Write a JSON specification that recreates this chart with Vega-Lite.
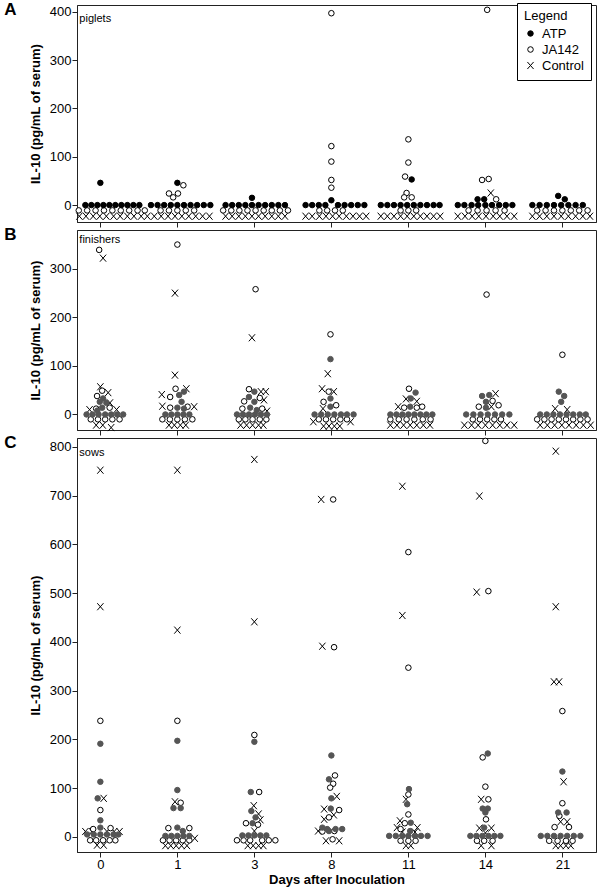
{
"$schema":"https://vega.github.io/schema/vega-lite/v6.json",
"padding":{"left":3,"top":0,"right":0,"bottom":0},
"spacing":-3,
"config":{
 "font":"Liberation Sans",
 "view":{"stroke":"#222"},
 "axis":{"grid":false,"domainColor":"#222","tickColor":"#222","labelColor":"#000","titleColor":"#000","labelFontSize":13,"titleFontSize":13,"titleFontWeight":"bold","tickSize":5,"labelPadding":1,"titlePadding":7,"labelFont":"Liberation Sans","titleFont":"Liberation Sans"},
 "legend":{"strokeColor":"#000","fillColor":"#fff","padding":7,"titleFontSize":13,"titleFontWeight":"normal","labelFontSize":13,"titleColor":"#000","labelColor":"#000","rowPadding":2,"titlePadding":4,"symbolStrokeWidth":1,"labelOffset":5,"cornerRadius":0,"labelFont":"Liberation Sans","titleFont":"Liberation Sans"}
},
"datasets":{"pts":[
{"p":"A","d":"0","g":"Control","v":-23,"j":-3.5},{"p":"A","d":"0","g":"Control","v":-23,"j":-2.4},{"p":"A","d":"0","g":"Control","v":-23,"j":-1.2},{"p":"A","d":"0","g":"Control","v":-23,"j":-0.1},{"p":"A","d":"0","g":"Control","v":-23,"j":1.0},{"p":"A","d":"0","g":"Control","v":-23,"j":2.2},{"p":"A","d":"0","g":"Control","v":-23,"j":3.3},{"p":"A","d":"0","g":"Control","v":-23,"j":4.5},{"p":"A","d":"0","g":"Control","v":-23,"j":5.6},{"p":"A","d":"0","g":"Control","v":-23,"j":6.8},
{"p":"A","d":"0","g":"JA142","v":-11,"j":-3.6},{"p":"A","d":"0","g":"JA142","v":-11,"j":-2.2},{"p":"A","d":"0","g":"JA142","v":-11,"j":-0.8},{"p":"A","d":"0","g":"JA142","v":-11,"j":0.6},{"p":"A","d":"0","g":"JA142","v":-11,"j":2.0},{"p":"A","d":"0","g":"JA142","v":-11,"j":3.4},{"p":"A","d":"0","g":"JA142","v":-11,"j":4.8},{"p":"A","d":"0","g":"JA142","v":-11,"j":6.2},{"p":"A","d":"0","g":"JA142","v":-11,"j":7.4},
{"p":"A","d":"0","g":"ATP","v":46,"j":0},{"p":"A","d":"0","g":"ATP","v":0,"j":-2.5},{"p":"A","d":"0","g":"ATP","v":0,"j":-1.5},{"p":"A","d":"0","g":"ATP","v":0,"j":-0.5},{"p":"A","d":"0","g":"ATP","v":0,"j":0.5},{"p":"A","d":"0","g":"ATP","v":0,"j":1.5},{"p":"A","d":"0","g":"ATP","v":0,"j":2.5},{"p":"A","d":"0","g":"ATP","v":0,"j":3.5},{"p":"A","d":"0","g":"ATP","v":0,"j":4.5},{"p":"A","d":"0","g":"ATP","v":0,"j":5.5},{"p":"A","d":"0","g":"ATP","v":0,"j":6.5},
{"p":"A","d":"1","g":"Control","v":-23,"j":-5},{"p":"A","d":"1","g":"Control","v":-23,"j":-3.85},{"p":"A","d":"1","g":"Control","v":-23,"j":-2.7},{"p":"A","d":"1","g":"Control","v":-23,"j":-1.55},{"p":"A","d":"1","g":"Control","v":-23,"j":-0.4},{"p":"A","d":"1","g":"Control","v":-23,"j":0.75},{"p":"A","d":"1","g":"Control","v":-23,"j":1.9},{"p":"A","d":"1","g":"Control","v":-23,"j":3.05},{"p":"A","d":"1","g":"Control","v":-23,"j":4.2},{"p":"A","d":"1","g":"Control","v":-23,"j":5.35},
{"p":"A","d":"1","g":"JA142","v":41,"j":1},{"p":"A","d":"1","g":"JA142","v":24,"j":-1.4},{"p":"A","d":"1","g":"JA142","v":24,"j":0.1},{"p":"A","d":"1","g":"JA142","v":16,"j":-0.7},{"p":"A","d":"1","g":"JA142","v":-11,"j":-2.8},{"p":"A","d":"1","g":"JA142","v":-11,"j":-1.4},{"p":"A","d":"1","g":"JA142","v":-11,"j":0},{"p":"A","d":"1","g":"JA142","v":-11,"j":1.4},{"p":"A","d":"1","g":"JA142","v":-11,"j":2.8},
{"p":"A","d":"1","g":"ATP","v":46,"j":0},{"p":"A","d":"1","g":"ATP","v":0,"j":-4.4},{"p":"A","d":"1","g":"ATP","v":0,"j":-3.3},{"p":"A","d":"1","g":"ATP","v":0,"j":-2.2},{"p":"A","d":"1","g":"ATP","v":0,"j":-1.1},{"p":"A","d":"1","g":"ATP","v":0,"j":0},{"p":"A","d":"1","g":"ATP","v":0,"j":1.1},{"p":"A","d":"1","g":"ATP","v":0,"j":2.2},{"p":"A","d":"1","g":"ATP","v":0,"j":3.3},{"p":"A","d":"1","g":"ATP","v":0,"j":4.4},{"p":"A","d":"1","g":"ATP","v":0,"j":5.5},
{"p":"A","d":"3","g":"Control","v":-23,"j":-4.8},{"p":"A","d":"3","g":"Control","v":-23,"j":-3.7},{"p":"A","d":"3","g":"Control","v":-23,"j":-2.6},{"p":"A","d":"3","g":"Control","v":-23,"j":-1.5},{"p":"A","d":"3","g":"Control","v":-23,"j":-0.4},{"p":"A","d":"3","g":"Control","v":-23,"j":0.7},{"p":"A","d":"3","g":"Control","v":-23,"j":1.8},{"p":"A","d":"3","g":"Control","v":-23,"j":2.9},{"p":"A","d":"3","g":"Control","v":-23,"j":4.0},{"p":"A","d":"3","g":"Control","v":-23,"j":5.1},
{"p":"A","d":"3","g":"JA142","v":-11,"j":-5.2},{"p":"A","d":"3","g":"JA142","v":-11,"j":-3.85},{"p":"A","d":"3","g":"JA142","v":-11,"j":-2.5},{"p":"A","d":"3","g":"JA142","v":-11,"j":-1.15},{"p":"A","d":"3","g":"JA142","v":-11,"j":0.2},{"p":"A","d":"3","g":"JA142","v":-11,"j":1.55},{"p":"A","d":"3","g":"JA142","v":-11,"j":2.9},{"p":"A","d":"3","g":"JA142","v":-11,"j":4.25},{"p":"A","d":"3","g":"JA142","v":-11,"j":5.6},
{"p":"A","d":"3","g":"ATP","v":15,"j":-0.4},{"p":"A","d":"3","g":"ATP","v":0,"j":-4.8},{"p":"A","d":"3","g":"ATP","v":0,"j":-3.7},{"p":"A","d":"3","g":"ATP","v":0,"j":-2.6},{"p":"A","d":"3","g":"ATP","v":0,"j":-1.5},{"p":"A","d":"3","g":"ATP","v":0,"j":-0.4},{"p":"A","d":"3","g":"ATP","v":0,"j":0.7},{"p":"A","d":"3","g":"ATP","v":0,"j":1.8},{"p":"A","d":"3","g":"ATP","v":0,"j":2.9},{"p":"A","d":"3","g":"ATP","v":0,"j":4.0},{"p":"A","d":"3","g":"ATP","v":0,"j":5.1},
{"p":"A","d":"8","g":"Control","v":-23,"j":-4.3},{"p":"A","d":"8","g":"Control","v":-23,"j":-3.2},{"p":"A","d":"8","g":"Control","v":-23,"j":-2.0},{"p":"A","d":"8","g":"Control","v":-23,"j":-0.9},{"p":"A","d":"8","g":"Control","v":-23,"j":0.2},{"p":"A","d":"8","g":"Control","v":-23,"j":1.3},{"p":"A","d":"8","g":"Control","v":-23,"j":2.5},{"p":"A","d":"8","g":"Control","v":-23,"j":3.6},{"p":"A","d":"8","g":"Control","v":-23,"j":4.7},{"p":"A","d":"8","g":"Control","v":-23,"j":5.8},
{"p":"A","d":"8","g":"JA142","v":397,"j":0},{"p":"A","d":"8","g":"JA142","v":122,"j":0},{"p":"A","d":"8","g":"JA142","v":90,"j":0},{"p":"A","d":"8","g":"JA142","v":52,"j":0},{"p":"A","d":"8","g":"JA142","v":36,"j":0},{"p":"A","d":"8","g":"JA142","v":-11,"j":-2},{"p":"A","d":"8","g":"JA142","v":-11,"j":-0.7},{"p":"A","d":"8","g":"JA142","v":-11,"j":0.6},{"p":"A","d":"8","g":"JA142","v":-11,"j":1.9},
{"p":"A","d":"8","g":"ATP","v":10,"j":0},{"p":"A","d":"8","g":"ATP","v":0,"j":-4.3},{"p":"A","d":"8","g":"ATP","v":0,"j":-3.2},{"p":"A","d":"8","g":"ATP","v":0,"j":-2.1},{"p":"A","d":"8","g":"ATP","v":0,"j":-1.0},{"p":"A","d":"8","g":"ATP","v":0,"j":1.1},{"p":"A","d":"8","g":"ATP","v":0,"j":2.2},{"p":"A","d":"8","g":"ATP","v":0,"j":3.3},{"p":"A","d":"8","g":"ATP","v":0,"j":4.4},{"p":"A","d":"8","g":"ATP","v":0,"j":5.5},
{"p":"A","d":"11","g":"Control","v":-23,"j":-4.6},{"p":"A","d":"11","g":"Control","v":-23,"j":-3.5},{"p":"A","d":"11","g":"Control","v":-23,"j":-2.4},{"p":"A","d":"11","g":"Control","v":-23,"j":-1.3},{"p":"A","d":"11","g":"Control","v":-23,"j":-0.2},{"p":"A","d":"11","g":"Control","v":-23,"j":0.9},{"p":"A","d":"11","g":"Control","v":-23,"j":2.0},{"p":"A","d":"11","g":"Control","v":-23,"j":3.1},{"p":"A","d":"11","g":"Control","v":-23,"j":4.2},{"p":"A","d":"11","g":"Control","v":-23,"j":5.3},
{"p":"A","d":"11","g":"JA142","v":136,"j":0},{"p":"A","d":"11","g":"JA142","v":88,"j":0},{"p":"A","d":"11","g":"JA142","v":59,"j":-0.55},{"p":"A","d":"11","g":"JA142","v":25,"j":-0.3},{"p":"A","d":"11","g":"JA142","v":16,"j":-0.7},{"p":"A","d":"11","g":"JA142","v":16,"j":0.55},{"p":"A","d":"11","g":"JA142","v":-11,"j":-1.3},{"p":"A","d":"11","g":"JA142","v":-11,"j":0},{"p":"A","d":"11","g":"JA142","v":-11,"j":1.3},
{"p":"A","d":"11","g":"ATP","v":53,"j":0.55},{"p":"A","d":"11","g":"ATP","v":0,"j":-4.6},{"p":"A","d":"11","g":"ATP","v":0,"j":-3.5},{"p":"A","d":"11","g":"ATP","v":0,"j":-2.4},{"p":"A","d":"11","g":"ATP","v":0,"j":-1.3},{"p":"A","d":"11","g":"ATP","v":0,"j":-0.2},{"p":"A","d":"11","g":"ATP","v":0,"j":0.9},{"p":"A","d":"11","g":"ATP","v":0,"j":2.0},{"p":"A","d":"11","g":"ATP","v":0,"j":3.1},{"p":"A","d":"11","g":"ATP","v":0,"j":4.2},{"p":"A","d":"11","g":"ATP","v":0,"j":5.2},
{"p":"A","d":"14","g":"Control","v":25,"j":0.9},{"p":"A","d":"14","g":"Control","v":-23,"j":-4.6},{"p":"A","d":"14","g":"Control","v":-23,"j":-3.4},{"p":"A","d":"14","g":"Control","v":-23,"j":-2.2},{"p":"A","d":"14","g":"Control","v":-23,"j":-1.1},{"p":"A","d":"14","g":"Control","v":-23,"j":0.1},{"p":"A","d":"14","g":"Control","v":-23,"j":1.3},{"p":"A","d":"14","g":"Control","v":-23,"j":2.4},{"p":"A","d":"14","g":"Control","v":-23,"j":3.6},{"p":"A","d":"14","g":"Control","v":-23,"j":4.8},
{"p":"A","d":"14","g":"JA142","v":404,"j":0.3},{"p":"A","d":"14","g":"JA142","v":54,"j":0.55},{"p":"A","d":"14","g":"JA142","v":52,"j":-0.55},{"p":"A","d":"14","g":"JA142","v":12,"j":1.8},{"p":"A","d":"14","g":"JA142","v":-11,"j":-2.8},{"p":"A","d":"14","g":"JA142","v":-11,"j":-1.3},{"p":"A","d":"14","g":"JA142","v":-11,"j":0.2},{"p":"A","d":"14","g":"JA142","v":-11,"j":1.7},{"p":"A","d":"14","g":"JA142","v":-11,"j":3.2},
{"p":"A","d":"14","g":"ATP","v":12,"j":-1.3},{"p":"A","d":"14","g":"ATP","v":12,"j":-0.2},{"p":"A","d":"14","g":"ATP","v":0,"j":-4.6},{"p":"A","d":"14","g":"ATP","v":0,"j":-3.5},{"p":"A","d":"14","g":"ATP","v":0,"j":-2.3},{"p":"A","d":"14","g":"ATP","v":0,"j":-1.2},{"p":"A","d":"14","g":"ATP","v":0,"j":0},{"p":"A","d":"14","g":"ATP","v":0,"j":1.1},{"p":"A","d":"14","g":"ATP","v":0,"j":2.3},{"p":"A","d":"14","g":"ATP","v":0,"j":3.4},{"p":"A","d":"14","g":"ATP","v":0,"j":4.5},
{"p":"A","d":"21","g":"Control","v":-23,"j":-5},{"p":"A","d":"21","g":"Control","v":-23,"j":-3.8},{"p":"A","d":"21","g":"Control","v":-23,"j":-2.6},{"p":"A","d":"21","g":"Control","v":-23,"j":-1.4},{"p":"A","d":"21","g":"Control","v":-23,"j":-0.2},{"p":"A","d":"21","g":"Control","v":-23,"j":1.0},{"p":"A","d":"21","g":"Control","v":-23,"j":2.2},{"p":"A","d":"21","g":"Control","v":-23,"j":3.4},{"p":"A","d":"21","g":"Control","v":-23,"j":4.6},
{"p":"A","d":"21","g":"JA142","v":-11,"j":-4.2},{"p":"A","d":"21","g":"JA142","v":-11,"j":-2.8},{"p":"A","d":"21","g":"JA142","v":-11,"j":-1.4},{"p":"A","d":"21","g":"JA142","v":-11,"j":0},{"p":"A","d":"21","g":"JA142","v":-11,"j":1.4},{"p":"A","d":"21","g":"JA142","v":-11,"j":2.8},{"p":"A","d":"21","g":"JA142","v":-11,"j":4.2},
{"p":"A","d":"21","g":"ATP","v":19,"j":-0.7},{"p":"A","d":"21","g":"ATP","v":12,"j":0.4},{"p":"A","d":"21","g":"ATP","v":0,"j":-5},{"p":"A","d":"21","g":"ATP","v":0,"j":-3.8},{"p":"A","d":"21","g":"ATP","v":0,"j":-2.6},{"p":"A","d":"21","g":"ATP","v":0,"j":-1.4},{"p":"A","d":"21","g":"ATP","v":0,"j":-0.2},{"p":"A","d":"21","g":"ATP","v":0,"j":1.0},{"p":"A","d":"21","g":"ATP","v":0,"j":2.2},{"p":"A","d":"21","g":"ATP","v":0,"j":3.4},

{"p":"B","d":"0","g":"Control","v":322,"j":0.45},{"p":"B","d":"0","g":"Control","v":57,"j":0},{"p":"B","d":"0","g":"Control","v":45,"j":1.3},{"p":"B","d":"0","g":"Control","v":24,"j":1.6},{"p":"B","d":"0","g":"Control","v":10,"j":-1.8},{"p":"B","d":"0","g":"Control","v":10,"j":2.7},{"p":"B","d":"0","g":"Control","v":-22,"j":-0.7},{"p":"B","d":"0","g":"Control","v":-22,"j":0.4},{"p":"B","d":"0","g":"Control","v":-27,"j":1.8},
{"p":"B","d":"0","g":"JA142","v":339,"j":-0.2},{"p":"B","d":"0","g":"JA142","v":49,"j":0.3},{"p":"B","d":"0","g":"JA142","v":38,"j":-0.55},{"p":"B","d":"0","g":"JA142","v":14,"j":1.55},{"p":"B","d":"0","g":"JA142","v":12,"j":-0.7},{"p":"B","d":"0","g":"JA142","v":-10,"j":-1.6},{"p":"B","d":"0","g":"JA142","v":-10,"j":-0.4},{"p":"B","d":"0","g":"JA142","v":-10,"j":0.8},{"p":"B","d":"0","g":"JA142","v":-10,"j":2.0},{"p":"B","d":"0","g":"JA142","v":-10,"j":3.2},
{"p":"B","d":"0","g":"ATP","v":33,"j":0.45},{"p":"B","d":"0","g":"ATP","v":26,"j":-0.1},{"p":"B","d":"0","g":"ATP","v":24,"j":1.0},{"p":"B","d":"0","g":"ATP","v":14,"j":0.3},{"p":"B","d":"0","g":"ATP","v":8,"j":-0.5},{"p":"B","d":"0","g":"ATP","v":0,"j":-2.3},{"p":"B","d":"0","g":"ATP","v":0,"j":-1.3},{"p":"B","d":"0","g":"ATP","v":0,"j":-0.3},{"p":"B","d":"0","g":"ATP","v":0,"j":0.8},{"p":"B","d":"0","g":"ATP","v":0,"j":1.8},{"p":"B","d":"0","g":"ATP","v":0,"j":2.8},{"p":"B","d":"0","g":"ATP","v":0,"j":3.8},
{"p":"B","d":"1","g":"Control","v":250,"j":-0.4},{"p":"B","d":"1","g":"Control","v":81,"j":-0.4},{"p":"B","d":"1","g":"Control","v":53,"j":1.5},{"p":"B","d":"1","g":"Control","v":41,"j":-2.6},{"p":"B","d":"1","g":"Control","v":17,"j":-2.5},{"p":"B","d":"1","g":"Control","v":16,"j":2.8},{"p":"B","d":"1","g":"Control","v":-22,"j":-1.4},{"p":"B","d":"1","g":"Control","v":-22,"j":-0.5},{"p":"B","d":"1","g":"Control","v":-22,"j":0.5},{"p":"B","d":"1","g":"Control","v":-22,"j":1.4},
{"p":"B","d":"1","g":"JA142","v":350,"j":0},{"p":"B","d":"1","g":"JA142","v":53,"j":-0.3},{"p":"B","d":"1","g":"JA142","v":36,"j":-1.2},{"p":"B","d":"1","g":"JA142","v":14,"j":-1.2},{"p":"B","d":"1","g":"JA142","v":16,"j":1.7},{"p":"B","d":"1","g":"JA142","v":-10,"j":-2.5},{"p":"B","d":"1","g":"JA142","v":-10,"j":-1.25},{"p":"B","d":"1","g":"JA142","v":-10,"j":0},{"p":"B","d":"1","g":"JA142","v":-10,"j":1.25},{"p":"B","d":"1","g":"JA142","v":-10,"j":2.5},
{"p":"B","d":"1","g":"ATP","v":47,"j":1.1},{"p":"B","d":"1","g":"ATP","v":40,"j":0.3},{"p":"B","d":"1","g":"ATP","v":26,"j":0.7},{"p":"B","d":"1","g":"ATP","v":14,"j":0},{"p":"B","d":"1","g":"ATP","v":12,"j":1.1},{"p":"B","d":"1","g":"ATP","v":0,"j":-2},{"p":"B","d":"1","g":"ATP","v":0,"j":-1},{"p":"B","d":"1","g":"ATP","v":0,"j":0},{"p":"B","d":"1","g":"ATP","v":0,"j":1},{"p":"B","d":"1","g":"ATP","v":0,"j":2},
{"p":"B","d":"3","g":"Control","v":158,"j":-0.4},{"p":"B","d":"3","g":"Control","v":47,"j":1.1},{"p":"B","d":"3","g":"Control","v":47,"j":1.9},{"p":"B","d":"3","g":"Control","v":30,"j":1.6},{"p":"B","d":"3","g":"Control","v":7,"j":2.1},{"p":"B","d":"3","g":"Control","v":-22,"j":-2.3},{"p":"B","d":"3","g":"Control","v":-22,"j":-1.3},{"p":"B","d":"3","g":"Control","v":-22,"j":-0.3},{"p":"B","d":"3","g":"Control","v":-22,"j":0.7},{"p":"B","d":"3","g":"Control","v":-22,"j":1.5},
{"p":"B","d":"3","g":"JA142","v":258,"j":0.2},{"p":"B","d":"3","g":"JA142","v":52,"j":-0.9},{"p":"B","d":"3","g":"JA142","v":34,"j":0.9},{"p":"B","d":"3","g":"JA142","v":27,"j":-1.7},{"p":"B","d":"3","g":"JA142","v":12,"j":-2},{"p":"B","d":"3","g":"JA142","v":12,"j":1.3},{"p":"B","d":"3","g":"JA142","v":-10,"j":-2.6},{"p":"B","d":"3","g":"JA142","v":-10,"j":-1.5},{"p":"B","d":"3","g":"JA142","v":-10,"j":-0.3},{"p":"B","d":"3","g":"JA142","v":-10,"j":0.9},{"p":"B","d":"3","g":"JA142","v":-10,"j":2.0},
{"p":"B","d":"3","g":"ATP","v":47,"j":0},{"p":"B","d":"3","g":"ATP","v":36,"j":-0.9},{"p":"B","d":"3","g":"ATP","v":26,"j":0},{"p":"B","d":"3","g":"ATP","v":14,"j":-0.7},{"p":"B","d":"3","g":"ATP","v":9,"j":0.4},{"p":"B","d":"3","g":"ATP","v":0,"j":-2.9},{"p":"B","d":"3","g":"ATP","v":0,"j":-1.9},{"p":"B","d":"3","g":"ATP","v":0,"j":-0.9},{"p":"B","d":"3","g":"ATP","v":0,"j":0.1},{"p":"B","d":"3","g":"ATP","v":0,"j":1.1},{"p":"B","d":"3","g":"ATP","v":0,"j":2.1},
{"p":"B","d":"8","g":"Control","v":84,"j":-0.6},{"p":"B","d":"8","g":"Control","v":53,"j":-1.55},{"p":"B","d":"8","g":"Control","v":47,"j":0.4},{"p":"B","d":"8","g":"Control","v":12,"j":-1.4},{"p":"B","d":"8","g":"Control","v":-15,"j":-3},{"p":"B","d":"8","g":"Control","v":-15,"j":3.2},{"p":"B","d":"8","g":"Control","v":-24,"j":-1.3},{"p":"B","d":"8","g":"Control","v":-24,"j":-0.4},{"p":"B","d":"8","g":"Control","v":-24,"j":0.5},{"p":"B","d":"8","g":"Control","v":-24,"j":1.4},
{"p":"B","d":"8","g":"JA142","v":165,"j":-0.15},{"p":"B","d":"8","g":"JA142","v":47,"j":-0.45},{"p":"B","d":"8","g":"JA142","v":26,"j":-1.3},{"p":"B","d":"8","g":"JA142","v":19,"j":0.8},{"p":"B","d":"8","g":"JA142","v":-10,"j":-2.1},{"p":"B","d":"8","g":"JA142","v":-10,"j":-0.9},{"p":"B","d":"8","g":"JA142","v":-10,"j":0.3},{"p":"B","d":"8","g":"JA142","v":-10,"j":1.5},{"p":"B","d":"8","g":"JA142","v":-10,"j":2.6},
{"p":"B","d":"8","g":"ATP","v":114,"j":-0.15},{"p":"B","d":"8","g":"ATP","v":33,"j":-0.15},{"p":"B","d":"8","g":"ATP","v":16,"j":-0.15},{"p":"B","d":"8","g":"ATP","v":0,"j":-2.8},{"p":"B","d":"8","g":"ATP","v":0,"j":-1.7},{"p":"B","d":"8","g":"ATP","v":0,"j":-0.6},{"p":"B","d":"8","g":"ATP","v":0,"j":0.5},{"p":"B","d":"8","g":"ATP","v":0,"j":1.6},{"p":"B","d":"8","g":"ATP","v":0,"j":2.6},{"p":"B","d":"8","g":"ATP","v":0,"j":3.7},
{"p":"B","d":"11","g":"Control","v":32,"j":-0.4},{"p":"B","d":"11","g":"Control","v":27,"j":1.4},{"p":"B","d":"11","g":"Control","v":16,"j":-1.7},{"p":"B","d":"11","g":"Control","v":-22,"j":-3},{"p":"B","d":"11","g":"Control","v":-22,"j":-1.9},{"p":"B","d":"11","g":"Control","v":-22,"j":-0.8},{"p":"B","d":"11","g":"Control","v":-22,"j":0.3},{"p":"B","d":"11","g":"Control","v":-22,"j":1.4},{"p":"B","d":"11","g":"Control","v":-22,"j":2.5},{"p":"B","d":"11","g":"Control","v":-22,"j":3.6},
{"p":"B","d":"11","g":"JA142","v":53,"j":0.1},{"p":"B","d":"11","g":"JA142","v":14,"j":-0.7},{"p":"B","d":"11","g":"JA142","v":14,"j":1.4},{"p":"B","d":"11","g":"JA142","v":16,"j":2.3},{"p":"B","d":"11","g":"JA142","v":-10,"j":-3},{"p":"B","d":"11","g":"JA142","v":-10,"j":-1.6},{"p":"B","d":"11","g":"JA142","v":-10,"j":-0.3},{"p":"B","d":"11","g":"JA142","v":-10,"j":1.0},{"p":"B","d":"11","g":"JA142","v":-10,"j":2.4},{"p":"B","d":"11","g":"JA142","v":-10,"j":3.7},
{"p":"B","d":"11","g":"ATP","v":45,"j":1.2},{"p":"B","d":"11","g":"ATP","v":33,"j":0.4},{"p":"B","d":"11","g":"ATP","v":16,"j":0.3},{"p":"B","d":"11","g":"ATP","v":0,"j":-3},{"p":"B","d":"11","g":"ATP","v":0,"j":-2},{"p":"B","d":"11","g":"ATP","v":0,"j":-1},{"p":"B","d":"11","g":"ATP","v":0,"j":0},{"p":"B","d":"11","g":"ATP","v":0,"j":1},{"p":"B","d":"11","g":"ATP","v":0,"j":2},{"p":"B","d":"11","g":"ATP","v":0,"j":3},{"p":"B","d":"11","g":"ATP","v":0,"j":4},
{"p":"B","d":"14","g":"Control","v":43,"j":1.7},{"p":"B","d":"14","g":"Control","v":16,"j":1.0},{"p":"B","d":"14","g":"Control","v":-22,"j":-3.5},{"p":"B","d":"14","g":"Control","v":-22,"j":-2.3},{"p":"B","d":"14","g":"Control","v":-22,"j":-1.2},{"p":"B","d":"14","g":"Control","v":-22,"j":0},{"p":"B","d":"14","g":"Control","v":-22,"j":1.2},{"p":"B","d":"14","g":"Control","v":-22,"j":2.4},{"p":"B","d":"14","g":"Control","v":-22,"j":3.6},{"p":"B","d":"14","g":"Control","v":-22,"j":4.8},
{"p":"B","d":"14","g":"JA142","v":247,"j":0.2},{"p":"B","d":"14","g":"JA142","v":28,"j":1.2},{"p":"B","d":"14","g":"JA142","v":16,"j":-1.1},{"p":"B","d":"14","g":"JA142","v":19,"j":2.2},{"p":"B","d":"14","g":"JA142","v":-10,"j":-2.1},{"p":"B","d":"14","g":"JA142","v":-10,"j":-0.9},{"p":"B","d":"14","g":"JA142","v":-10,"j":0.3},{"p":"B","d":"14","g":"JA142","v":-10,"j":1.5},{"p":"B","d":"14","g":"JA142","v":-10,"j":2.6},
{"p":"B","d":"14","g":"ATP","v":38,"j":-0.55},{"p":"B","d":"14","g":"ATP","v":40,"j":0.65},{"p":"B","d":"14","g":"ATP","v":26,"j":0.1},{"p":"B","d":"14","g":"ATP","v":14,"j":0.1},{"p":"B","d":"14","g":"ATP","v":0,"j":-3.2},{"p":"B","d":"14","g":"ATP","v":0,"j":-2},{"p":"B","d":"14","g":"ATP","v":0,"j":-0.8},{"p":"B","d":"14","g":"ATP","v":0,"j":0.4},{"p":"B","d":"14","g":"ATP","v":0,"j":1.6},{"p":"B","d":"14","g":"ATP","v":0,"j":2.8},{"p":"B","d":"14","g":"ATP","v":0,"j":4},
{"p":"B","d":"21","g":"Control","v":12,"j":-1.2},{"p":"B","d":"21","g":"Control","v":10,"j":0.8},{"p":"B","d":"21","g":"Control","v":-22,"j":-3.7},{"p":"B","d":"21","g":"Control","v":-22,"j":-2.5},{"p":"B","d":"21","g":"Control","v":-22,"j":-1.3},{"p":"B","d":"21","g":"Control","v":-22,"j":-0.1},{"p":"B","d":"21","g":"Control","v":-22,"j":1.1},{"p":"B","d":"21","g":"Control","v":-22,"j":2.3},{"p":"B","d":"21","g":"Control","v":-22,"j":3.5},{"p":"B","d":"21","g":"Control","v":-22,"j":4.7},
{"p":"B","d":"21","g":"JA142","v":123,"j":0},{"p":"B","d":"21","g":"JA142","v":-10,"j":-4.2},{"p":"B","d":"21","g":"JA142","v":-10,"j":-3},{"p":"B","d":"21","g":"JA142","v":-10,"j":-1.8},{"p":"B","d":"21","g":"JA142","v":-10,"j":-0.6},{"p":"B","d":"21","g":"JA142","v":-10,"j":0.6},{"p":"B","d":"21","g":"JA142","v":-10,"j":1.8},{"p":"B","d":"21","g":"JA142","v":-10,"j":3.0},{"p":"B","d":"21","g":"JA142","v":-10,"j":4.2},
{"p":"B","d":"21","g":"ATP","v":47,"j":-0.6},{"p":"B","d":"21","g":"ATP","v":38,"j":0.3},{"p":"B","d":"21","g":"ATP","v":26,"j":-0.2},{"p":"B","d":"21","g":"ATP","v":0,"j":-3.7},{"p":"B","d":"21","g":"ATP","v":0,"j":-2.6},{"p":"B","d":"21","g":"ATP","v":0,"j":-1.5},{"p":"B","d":"21","g":"ATP","v":0,"j":-0.4},{"p":"B","d":"21","g":"ATP","v":0,"j":0.7},{"p":"B","d":"21","g":"ATP","v":0,"j":1.8},{"p":"B","d":"21","g":"ATP","v":0,"j":2.9},{"p":"B","d":"21","g":"ATP","v":0,"j":3.9},

{"p":"C","d":"0","g":"Control","v":752,"j":0},{"p":"C","d":"0","g":"Control","v":472,"j":0},{"p":"C","d":"0","g":"Control","v":79,"j":0.55},{"p":"C","d":"0","g":"Control","v":11,"j":-2.5},{"p":"C","d":"0","g":"Control","v":11,"j":-1.4},{"p":"C","d":"0","g":"Control","v":11,"j":1.1},{"p":"C","d":"0","g":"Control","v":11,"j":2.3},{"p":"C","d":"0","g":"Control","v":11,"j":3.2},{"p":"C","d":"0","g":"Control","v":-17,"j":-0.55},{"p":"C","d":"0","g":"Control","v":-17,"j":0.55},
{"p":"C","d":"0","g":"JA142","v":238,"j":0},{"p":"C","d":"0","g":"JA142","v":55,"j":0},{"p":"C","d":"0","g":"JA142","v":18,"j":1.7},{"p":"C","d":"0","g":"JA142","v":16,"j":-1.2},{"p":"C","d":"0","g":"JA142","v":-7,"j":-1.7},{"p":"C","d":"0","g":"JA142","v":-7,"j":-0.7},{"p":"C","d":"0","g":"JA142","v":-7,"j":0.45},{"p":"C","d":"0","g":"JA142","v":-7,"j":1.55},{"p":"C","d":"0","g":"JA142","v":-7,"j":2.5},
{"p":"C","d":"0","g":"ATP","v":191,"j":0},{"p":"C","d":"0","g":"ATP","v":113,"j":0},{"p":"C","d":"0","g":"ATP","v":79,"j":-0.45},{"p":"C","d":"0","g":"ATP","v":34,"j":0},{"p":"C","d":"0","g":"ATP","v":19,"j":0},{"p":"C","d":"0","g":"ATP","v":5,"j":-2.2},{"p":"C","d":"0","g":"ATP","v":5,"j":-1.1},{"p":"C","d":"0","g":"ATP","v":5,"j":0},{"p":"C","d":"0","g":"ATP","v":5,"j":1.1},{"p":"C","d":"0","g":"ATP","v":5,"j":2.2},{"p":"C","d":"0","g":"ATP","v":5,"j":3.0},
{"p":"C","d":"1","g":"Control","v":752,"j":0},{"p":"C","d":"1","g":"Control","v":424,"j":0},{"p":"C","d":"1","g":"Control","v":72,"j":-0.4},{"p":"C","d":"1","g":"Control","v":-3,"j":2.9},{"p":"C","d":"1","g":"Control","v":-18,"j":-2},{"p":"C","d":"1","g":"Control","v":-18,"j":-1.1},{"p":"C","d":"1","g":"Control","v":-18,"j":-0.2},{"p":"C","d":"1","g":"Control","v":-18,"j":0.7},{"p":"C","d":"1","g":"Control","v":-18,"j":1.6},
{"p":"C","d":"1","g":"JA142","v":238,"j":0},{"p":"C","d":"1","g":"JA142","v":70,"j":0.55},{"p":"C","d":"1","g":"JA142","v":18,"j":-1.5},{"p":"C","d":"1","g":"JA142","v":18,"j":2.0},{"p":"C","d":"1","g":"JA142","v":-7,"j":-2.4},{"p":"C","d":"1","g":"JA142","v":-7,"j":-1.3},{"p":"C","d":"1","g":"JA142","v":-7,"j":-0.2},{"p":"C","d":"1","g":"JA142","v":-7,"j":0.9},{"p":"C","d":"1","g":"JA142","v":-7,"j":2.0},
{"p":"C","d":"1","g":"ATP","v":197,"j":0},{"p":"C","d":"1","g":"ATP","v":96,"j":0},{"p":"C","d":"1","g":"ATP","v":59,"j":-0.65},{"p":"C","d":"1","g":"ATP","v":59,"j":0.55},{"p":"C","d":"1","g":"ATP","v":19,"j":0},{"p":"C","d":"1","g":"ATP","v":12,"j":0.9},{"p":"C","d":"1","g":"ATP","v":2,"j":-2},{"p":"C","d":"1","g":"ATP","v":2,"j":-1},{"p":"C","d":"1","g":"ATP","v":2,"j":0},{"p":"C","d":"1","g":"ATP","v":2,"j":1},{"p":"C","d":"1","g":"ATP","v":2,"j":2},
{"p":"C","d":"3","g":"Control","v":774,"j":0},{"p":"C","d":"3","g":"Control","v":441,"j":0},{"p":"C","d":"3","g":"Control","v":64,"j":-0.1},{"p":"C","d":"3","g":"Control","v":47,"j":0.7},{"p":"C","d":"3","g":"Control","v":35,"j":1.0},{"p":"C","d":"3","g":"Control","v":12,"j":0},{"p":"C","d":"3","g":"Control","v":-18,"j":-1.1},{"p":"C","d":"3","g":"Control","v":-18,"j":-0.2},{"p":"C","d":"3","g":"Control","v":-18,"j":0.7},{"p":"C","d":"3","g":"Control","v":-18,"j":1.5},
{"p":"C","d":"3","g":"JA142","v":209,"j":0},{"p":"C","d":"3","g":"JA142","v":92,"j":0.8},{"p":"C","d":"3","g":"JA142","v":28,"j":-1.4},{"p":"C","d":"3","g":"JA142","v":25,"j":0.6},{"p":"C","d":"3","g":"JA142","v":-7,"j":-2.9},{"p":"C","d":"3","g":"JA142","v":-7,"j":-1.8},{"p":"C","d":"3","g":"JA142","v":-7,"j":-0.7},{"p":"C","d":"3","g":"JA142","v":-7,"j":1.3},{"p":"C","d":"3","g":"JA142","v":-7,"j":2.4},{"p":"C","d":"3","g":"JA142","v":-7,"j":3.5},
{"p":"C","d":"3","g":"ATP","v":195,"j":0},{"p":"C","d":"3","g":"ATP","v":92,"j":-0.6},{"p":"C","d":"3","g":"ATP","v":53,"j":-0.5},{"p":"C","d":"3","g":"ATP","v":40,"j":0.2},{"p":"C","d":"3","g":"ATP","v":28,"j":-0.3},{"p":"C","d":"3","g":"ATP","v":3,"j":-2},{"p":"C","d":"3","g":"ATP","v":3,"j":-1},{"p":"C","d":"3","g":"ATP","v":3,"j":0},{"p":"C","d":"3","g":"ATP","v":3,"j":1},{"p":"C","d":"3","g":"ATP","v":3,"j":2},
{"p":"C","d":"8","g":"Control","v":692,"j":-1.7},{"p":"C","d":"8","g":"Control","v":391,"j":-1.5},{"p":"C","d":"8","g":"Control","v":83,"j":0.9},{"p":"C","d":"8","g":"Control","v":57,"j":-1.2},{"p":"C","d":"8","g":"Control","v":45,"j":0.4},{"p":"C","d":"8","g":"Control","v":36,"j":-1.2},{"p":"C","d":"8","g":"Control","v":12,"j":-2.2},{"p":"C","d":"8","g":"Control","v":-8,"j":-0.9},{"p":"C","d":"8","g":"Control","v":-8,"j":1.3},
{"p":"C","d":"8","g":"JA142","v":692,"j":0.3},{"p":"C","d":"8","g":"JA142","v":389,"j":0.45},{"p":"C","d":"8","g":"JA142","v":126,"j":0.6},{"p":"C","d":"8","g":"JA142","v":109,"j":0.3},{"p":"C","d":"8","g":"JA142","v":101,"j":-0.2},{"p":"C","d":"8","g":"JA142","v":55,"j":1.3},{"p":"C","d":"8","g":"JA142","v":40,"j":-0.4},{"p":"C","d":"8","g":"JA142","v":12,"j":0.5},{"p":"C","d":"8","g":"JA142","v":11,"j":-1.5},{"p":"C","d":"8","g":"JA142","v":-5,"j":0.2},
{"p":"C","d":"8","g":"ATP","v":167,"j":0},{"p":"C","d":"8","g":"ATP","v":118,"j":-0.4},{"p":"C","d":"8","g":"ATP","v":79,"j":0},{"p":"C","d":"8","g":"ATP","v":58,"j":-0.1},{"p":"C","d":"8","g":"ATP","v":19,"j":-1.5},{"p":"C","d":"8","g":"ATP","v":16,"j":-0.7},{"p":"C","d":"8","g":"ATP","v":16,"j":0.7},{"p":"C","d":"8","g":"ATP","v":16,"j":1.8},{"p":"C","d":"8","g":"ATP","v":12,"j":-0.4},
{"p":"C","d":"11","g":"Control","v":719,"j":-1},{"p":"C","d":"11","g":"Control","v":454,"j":-1},{"p":"C","d":"11","g":"Control","v":77,"j":-0.4},{"p":"C","d":"11","g":"Control","v":33,"j":-1.4},{"p":"C","d":"11","g":"Control","v":19,"j":-1.9},{"p":"C","d":"11","g":"Control","v":19,"j":1.5},{"p":"C","d":"11","g":"Control","v":10,"j":-1.0},{"p":"C","d":"11","g":"Control","v":10,"j":1.1},{"p":"C","d":"11","g":"Control","v":-18,"j":-0.4},{"p":"C","d":"11","g":"Control","v":-18,"j":0.4},
{"p":"C","d":"11","g":"JA142","v":584,"j":0},{"p":"C","d":"11","g":"JA142","v":347,"j":0},{"p":"C","d":"11","g":"JA142","v":87,"j":0},{"p":"C","d":"11","g":"JA142","v":46,"j":0},{"p":"C","d":"11","g":"JA142","v":28,"j":-0.6},{"p":"C","d":"11","g":"JA142","v":16,"j":-1.3},{"p":"C","d":"11","g":"JA142","v":-8,"j":-1.3},{"p":"C","d":"11","g":"JA142","v":-8,"j":0},{"p":"C","d":"11","g":"JA142","v":-8,"j":1.2},
{"p":"C","d":"11","g":"ATP","v":98,"j":0.1},{"p":"C","d":"11","g":"ATP","v":67,"j":-0.2},{"p":"C","d":"11","g":"ATP","v":29,"j":0.4},{"p":"C","d":"11","g":"ATP","v":12,"j":0.3},{"p":"C","d":"11","g":"ATP","v":2,"j":-3.2},{"p":"C","d":"11","g":"ATP","v":2,"j":-2.1},{"p":"C","d":"11","g":"ATP","v":2,"j":-1},{"p":"C","d":"11","g":"ATP","v":2,"j":0},{"p":"C","d":"11","g":"ATP","v":2,"j":1.1},{"p":"C","d":"11","g":"ATP","v":2,"j":2.1},{"p":"C","d":"11","g":"ATP","v":2,"j":3.2},
{"p":"C","d":"14","g":"Control","v":699,"j":-1},{"p":"C","d":"14","g":"Control","v":502,"j":-1.45},{"p":"C","d":"14","g":"Control","v":77,"j":-0.7},{"p":"C","d":"14","g":"Control","v":18,"j":-1},{"p":"C","d":"14","g":"Control","v":18,"j":1},{"p":"C","d":"14","g":"Control","v":8,"j":0},{"p":"C","d":"14","g":"Control","v":-18,"j":-0.7},{"p":"C","d":"14","g":"Control","v":-18,"j":1},
{"p":"C","d":"14","g":"JA142","v":812,"j":0},{"p":"C","d":"14","g":"JA142","v":504,"j":0.5},{"p":"C","d":"14","g":"JA142","v":163,"j":-0.45},{"p":"C","d":"14","g":"JA142","v":103,"j":0},{"p":"C","d":"14","g":"JA142","v":77,"j":0.5},{"p":"C","d":"14","g":"JA142","v":36,"j":0.1},{"p":"C","d":"14","g":"JA142","v":-8,"j":-1.4},{"p":"C","d":"14","g":"JA142","v":-8,"j":-0.2},{"p":"C","d":"14","g":"JA142","v":-8,"j":1.2},
{"p":"C","d":"14","g":"ATP","v":171,"j":0.4},{"p":"C","d":"14","g":"ATP","v":58,"j":-0.45},{"p":"C","d":"14","g":"ATP","v":58,"j":0.4},{"p":"C","d":"14","g":"ATP","v":50,"j":0},{"p":"C","d":"14","g":"ATP","v":19,"j":-0.2},{"p":"C","d":"14","g":"ATP","v":2,"j":-2.5},{"p":"C","d":"14","g":"ATP","v":2,"j":-1.5},{"p":"C","d":"14","g":"ATP","v":2,"j":-0.5},{"p":"C","d":"14","g":"ATP","v":2,"j":0.5},{"p":"C","d":"14","g":"ATP","v":2,"j":1.5},{"p":"C","d":"14","g":"ATP","v":2,"j":2.5},
{"p":"C","d":"21","g":"Control","v":791,"j":-1.1},{"p":"C","d":"21","g":"Control","v":472,"j":-1.1},{"p":"C","d":"21","g":"Control","v":318,"j":-1.4},{"p":"C","d":"21","g":"Control","v":318,"j":-0.55},{"p":"C","d":"21","g":"Control","v":113,"j":0.2},{"p":"C","d":"21","g":"Control","v":31,"j":-0.3},{"p":"C","d":"21","g":"Control","v":31,"j":0.8},{"p":"C","d":"21","g":"Control","v":-18,"j":-1.1},{"p":"C","d":"21","g":"Control","v":-18,"j":-0.3},{"p":"C","d":"21","g":"Control","v":-18,"j":0.6},{"p":"C","d":"21","g":"Control","v":-18,"j":1.4},
{"p":"C","d":"21","g":"JA142","v":258,"j":0},{"p":"C","d":"21","g":"JA142","v":69,"j":0},{"p":"C","d":"21","g":"JA142","v":43,"j":-0.5},{"p":"C","d":"21","g":"JA142","v":20,"j":-1.3},{"p":"C","d":"21","g":"JA142","v":20,"j":1.1},{"p":"C","d":"21","g":"JA142","v":-8,"j":-2.2},{"p":"C","d":"21","g":"JA142","v":-8,"j":-0.8},{"p":"C","d":"21","g":"JA142","v":-8,"j":0.6},{"p":"C","d":"21","g":"JA142","v":-8,"j":1.7},
{"p":"C","d":"21","g":"ATP","v":134,"j":0},{"p":"C","d":"21","g":"ATP","v":50,"j":-0.7},{"p":"C","d":"21","g":"ATP","v":50,"j":0.7},{"p":"C","d":"21","g":"ATP","v":2,"j":-3.6},{"p":"C","d":"21","g":"ATP","v":2,"j":-2.5},{"p":"C","d":"21","g":"ATP","v":2,"j":-1.4},{"p":"C","d":"21","g":"ATP","v":2,"j":-0.3},{"p":"C","d":"21","g":"ATP","v":2,"j":0.8},{"p":"C","d":"21","g":"ATP","v":2,"j":1.9},{"p":"C","d":"21","g":"ATP","v":2,"j":3.0}
]},
"resolve":{"scale":{"x":"independent","y":"independent","xOffset":"independent","fill":"independent","stroke":"independent","shape":"independent","size":"independent"}},
"vconcat":[
{"width":519,"height":217,
 "layer":[
  {"data":{"name":"pts"},"transform":[{"filter":"datum.p==='A'"}],
   "mark":{"type":"point","opacity":1,"strokeWidth":1},
   "encoding":{
    "x":{"field":"d","type":"ordinal","scale":{"type":"point","domain":["0","1","3","8","11","14","21"],"padding":0.37,"align":0.41},"axis":{"labels":false,"title":null}},
    "xOffset":{"field":"j","type":"quantitative","scale":{"domain":[-10,10],"range":[-60,60]}},
    "y":{"field":"v","type":"quantitative","scale":{"domain":[-35,414],"nice":false,"zero":false},"axis":{"values":[0,100,200,300,400],"title":"IL-10 (pg/mL of serum)"}},
    "shape":{"field":"g","type":"nominal","scale":{"domain":["ATP","JA142","Control"],"range":["circle","circle","M-1.1,-1.25L1.1,1.25M-1.1,1.25L1.1,-1.25"]},"legend":{"title":"Legend","orient":"none","legendX":440,"legendY":-2}},
    "fill":{"field":"g","type":"nominal","scale":{"domain":["ATP","JA142","Control"],"range":["#000000","#ffffff","transparent"]},"legend":{"title":"Legend","orient":"none","legendX":440,"legendY":-2}},
    "stroke":{"field":"g","type":"nominal","scale":{"domain":["ATP","JA142","Control"],"range":["#000000","#000000","#000000"]},"legend":{"title":"Legend","orient":"none","legendX":440,"legendY":-2}},
    "size":{"field":"g","type":"nominal","scale":{"domain":["ATP","JA142","Control"],"range":[30,32,48]},"legend":{"title":"Legend","orient":"none","legendX":440,"legendY":-2}}
   }},
  {"data":{"values":[{"label":"piglets"}]},"mark":{"type":"text","align":"left","baseline":"middle","dx":-21,"fontSize":11,"color":"#000"},
   "encoding":{"text":{"field":"label"},"x":{"datum":"0","type":"ordinal"},"y":{"datum":385,"type":"quantitative"}}},
  {"data":{"values":[{"label":"A"}]},"mark":{"type":"text","align":"left","baseline":"top","dx":-96,"dy":-3,"fontSize":17,"fontWeight":"bold","color":"#000"},
   "encoding":{"text":{"field":"label"},"x":{"datum":"0","type":"ordinal"},"y":{"datum":414,"type":"quantitative"}}}
 ]},
{"width":519,"height":200,
 "layer":[
  {"data":{"name":"pts"},"transform":[{"filter":"datum.p==='B'"}],
   "mark":{"type":"point","opacity":1,"strokeWidth":1},
   "encoding":{
    "x":{"field":"d","type":"ordinal","scale":{"type":"point","domain":["0","1","3","8","11","14","21"],"padding":0.37,"align":0.41},"axis":{"labels":false,"title":null}},
    "xOffset":{"field":"j","type":"quantitative","scale":{"domain":[-10,10],"range":[-60,60]}},
    "y":{"field":"v","type":"quantitative","scale":{"domain":[-32,380],"nice":false,"zero":false},"axis":{"values":[0,100,200,300],"title":"IL-10 (pg/mL of serum)"}},
    "shape":{"field":"g","type":"nominal","scale":{"domain":["ATP","JA142","Control"],"range":["circle","circle","M-1.1,-1.25L1.1,1.25M-1.1,1.25L1.1,-1.25"]},"legend":null},
    "fill":{"field":"g","type":"nominal","scale":{"domain":["ATP","JA142","Control"],"range":["#555555","#ffffff","transparent"]},"legend":null},
    "stroke":{"field":"g","type":"nominal","scale":{"domain":["ATP","JA142","Control"],"range":["#555555","#000000","#000000"]},"legend":null},
    "size":{"field":"g","type":"nominal","scale":{"domain":["ATP","JA142","Control"],"range":[30,32,48]},"legend":null}
   }},
  {"data":{"values":[{"label":"finishers"}]},"mark":{"type":"text","align":"left","baseline":"middle","dx":-21,"fontSize":11,"color":"#000"},
   "encoding":{"text":{"field":"label"},"x":{"datum":"0","type":"ordinal"},"y":{"datum":359,"type":"quantitative"}}},
  {"data":{"values":[{"label":"B"}]},"mark":{"type":"text","align":"left","baseline":"top","dx":-96,"dy":-3,"fontSize":17,"fontWeight":"bold","color":"#000"},
   "encoding":{"text":{"field":"label"},"x":{"datum":"0","type":"ordinal"},"y":{"datum":380,"type":"quantitative"}}}
 ]},
{"width":519,"height":414,
 "layer":[
  {"data":{"name":"pts"},"transform":[{"filter":"datum.p==='C'"}],
   "mark":{"type":"point","opacity":1,"strokeWidth":1},
   "encoding":{
    "x":{"field":"d","type":"ordinal","scale":{"type":"point","domain":["0","1","3","8","11","14","21"],"padding":0.37,"align":0.41},"axis":{"labelAngle":0,"title":"Days after Inoculation","titlePadding":2}},
    "xOffset":{"field":"j","type":"quantitative","scale":{"domain":[-10,10],"range":[-60,60]}},
    "y":{"field":"v","type":"quantitative","scale":{"domain":[-31,818],"nice":false,"zero":false},"axis":{"values":[0,100,200,300,400,500,600,700,800],"title":"IL-10 (pg/mL of serum)"}},
    "shape":{"field":"g","type":"nominal","scale":{"domain":["ATP","JA142","Control"],"range":["circle","circle","M-1.1,-1.25L1.1,1.25M-1.1,1.25L1.1,-1.25"]},"legend":null},
    "fill":{"field":"g","type":"nominal","scale":{"domain":["ATP","JA142","Control"],"range":["#555555","#ffffff","transparent"]},"legend":null},
    "stroke":{"field":"g","type":"nominal","scale":{"domain":["ATP","JA142","Control"],"range":["#555555","#000000","#000000"]},"legend":null},
    "size":{"field":"g","type":"nominal","scale":{"domain":["ATP","JA142","Control"],"range":[30,32,48]},"legend":null}
   }},
  {"data":{"values":[{"label":"sows"}]},"mark":{"type":"text","align":"left","baseline":"middle","dx":-21,"fontSize":11,"color":"#000"},
   "encoding":{"text":{"field":"label"},"x":{"datum":"0","type":"ordinal"},"y":{"datum":788,"type":"quantitative"}}},
  {"data":{"values":[{"label":"C"}]},"mark":{"type":"text","align":"left","baseline":"top","dx":-96,"dy":-3,"fontSize":17,"fontWeight":"bold","color":"#000"},
   "encoding":{"text":{"field":"label"},"x":{"datum":"0","type":"ordinal"},"y":{"datum":818,"type":"quantitative"}}}
 ]}
]
}
